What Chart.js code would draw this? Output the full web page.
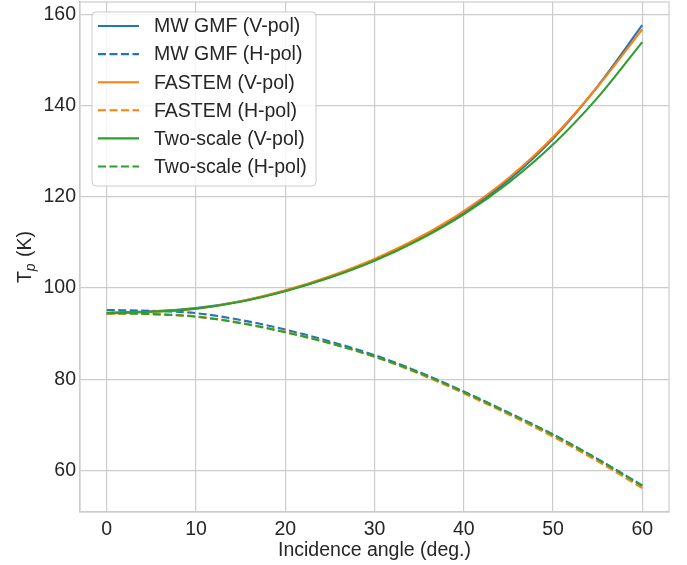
<!DOCTYPE html>
<html>
<head>
<meta charset="utf-8">
<script src="https://cdn.jsdelivr.net/npm/chart.js@4.4.0/dist/chart.umd.min.js"></script>
<style>
  html, body { margin: 0; padding: 0; background: #fff; }
  #wrap { width: 687px; height: 565px; }
</style>
</head>
<body>
<div id="wrap"><canvas id="chart" width="687" height="565"></canvas></div>
<script>
// incidence angle (deg.)
const angles = [0, 5, 10, 15, 20, 25, 30, 35, 40, 45, 50, 55, 60];

// brightness temperatures (K)
const mwgmfV = [94.6, 94.9, 95.6, 97.1, 99.4, 102.4, 106.1, 110.8, 116.5, 123.7, 132.8, 144.3, 157.7];
const mwgmfH = [95.2, 95.0, 94.5, 93.0, 90.9, 88.3, 85.3, 81.6, 77.3, 72.7, 67.9, 62.5, 56.7];
const fastemV = [94.4, 94.8, 95.5, 97.1, 99.5, 102.6, 106.4, 111.1, 116.9, 124.1, 133.1, 144.2, 156.8];
const fastemH = [94.4, 94.3, 93.8, 92.4, 90.4, 87.9, 84.9, 81.2, 76.9, 72.3, 67.4, 62.0, 56.1];
const twoScaleV = [94.5, 94.8, 95.5, 97.0, 99.3, 102.3, 106.0, 110.6, 116.2, 123.1, 131.5, 141.8, 154.0];
const twoScaleH = [94.5, 94.3, 93.7, 92.3, 90.3, 87.9, 85.0, 81.4, 77.2, 72.6, 67.8, 62.4, 56.6];

const xTicks = [0, 10, 20, 30, 40, 50, 60];
const yTicks = [60, 80, 100, 120, 140, 160];

const FONT = "'Liberation Sans', Arial, sans-serif";
const TEXT = "#262626";
const GRID = "#cccccc";
const DASH = [8, 3.5];

function series(label, values, color, dashed, order) {
  return {
    label: label,
    data: angles.map((a, i) => ({ x: a, y: values[i] })),
    borderColor: color,
    backgroundColor: color,
    borderWidth: 2.1,
    borderDash: dashed ? DASH : [],
    pointRadius: 0,
    cubicInterpolationMode: "monotone",
    fill: false,
    order: order,
  };
}

const datasets = [
  series("MW GMF (V-pol)", mwgmfV, "#1f77b4", false, 6),
  series("MW GMF (H-pol)", mwgmfH, "#1f77b4", true, 5),
  series("FASTEM (V-pol)", fastemV, "#ff7f0e", false, 4),
  series("FASTEM (H-pol)", fastemH, "#ff7f0e", true, 3),
  series("Two-scale (V-pol)", twoScaleV, "#2ca02c", false, 2),
  series("Two-scale (H-pol)", twoScaleH, "#2ca02c", true, 1),
];

// frame on all four sides (matplotlib spines)
const frame = {
  id: "frame",
  afterDatasetsDraw(chart) {
    const { ctx, chartArea: a } = chart;
    ctx.save();
    ctx.strokeStyle = GRID;
    ctx.lineWidth = 1.2;
    ctx.strokeRect(a.left, a.top, a.right - a.left, a.bottom - a.top);
    ctx.restore();
  },
};

// legend drawn inside the axes, upper left
const insideLegend = {
  id: "insideLegend",
  afterDraw(chart) {
    const ctx = chart.ctx;
    ctx.save();
    ctx.beginPath();
    ctx.roundRect(92, 12, 224, 174, 4);
    ctx.fillStyle = "rgba(255,255,255,0.8)";
    ctx.fill();
    ctx.strokeStyle = GRID;
    ctx.lineWidth = 1;
    ctx.stroke();
    ctx.font = "19.5px " + FONT;
    ctx.textBaseline = "middle";
    ctx.textAlign = "left";
    chart.data.datasets.forEach((ds, i) => {
      const y = 26 + i * 28.1;
      ctx.beginPath();
      ctx.setLineDash(ds.borderDash);
      ctx.strokeStyle = ds.borderColor;
      ctx.lineWidth = 2.1;
      ctx.moveTo(98, y);
      ctx.lineTo(139, y);
      ctx.stroke();
      ctx.setLineDash([]);
      ctx.fillStyle = TEXT;
      ctx.fillText(ds.label, 154, y + 1);
    });
    ctx.restore();
  },
};

// y axis title with subscript p
const yTitle = {
  id: "yTitle",
  afterDraw(chart) {
    const ctx = chart.ctx;
    const a = chart.chartArea;
    ctx.save();
    ctx.fillStyle = TEXT;
    ctx.textBaseline = "alphabetic";
    ctx.textAlign = "left";
    const big = "19.5px " + FONT;
    const small = "italic 14px " + FONT;
    ctx.font = big;
    const wT = ctx.measureText("T").width;
    const wK = ctx.measureText(" (K)").width;
    ctx.font = small;
    const wp = ctx.measureText("p").width;
    const total = wT + wp + 1 + wK;
    ctx.translate(31, (a.top + a.bottom) / 2);
    ctx.rotate(-Math.PI / 2);
    let x = -total / 2;
    ctx.font = big;
    ctx.fillText("T", x, 0);
    x += wT;
    ctx.font = small;
    ctx.fillText("p", x, 4);
    x += wp + 1;
    ctx.font = big;
    ctx.fillText(" (K)", x, 0);
    ctx.restore();
  },
};

new Chart(document.getElementById("chart").getContext("2d"), {
  type: "line",
  data: { datasets: datasets },
  options: {
    responsive: false,
    animation: false,
    events: [],
    layout: { padding: { top: 2, right: 18, left: 0, bottom: 0 } },
    plugins: {
      legend: { display: false },
      tooltip: { enabled: false },
    },
    scales: {
      x: {
        type: "linear",
        min: -3,
        max: 63,
        afterBuildTicks: (scale) => {
          scale.ticks = xTicks.map((v) => ({ value: v }));
        },
        afterFit: (scale) => {
          scale.height = 53;
          scale.paddingLeft = 0;
          scale.paddingRight = 0;
        },
        grid: { color: GRID, lineWidth: 1.2, drawTicks: false },
        border: { color: GRID, width: 1.2 },
        ticks: {
          color: TEXT,
          padding: 6,
          maxRotation: 0,
          font: { family: FONT, size: 19.5 },
        },
        title: {
          display: true,
          text: "Incidence angle (deg.)",
          color: TEXT,
          padding: { top: 0, bottom: 3 },
          font: { family: FONT, size: 19.5 },
        },
      },
      y: {
        type: "linear",
        min: 50.85,
        max: 162.8,
        afterBuildTicks: (scale) => {
          scale.ticks = yTicks.map((v) => ({ value: v }));
        },
        afterFit: (scale) => {
          scale.width = 80;
          scale.paddingTop = 0;
          scale.paddingBottom = 0;
        },
        grid: { color: GRID, lineWidth: 1.2, drawTicks: false },
        border: { color: GRID, width: 1.2 },
        ticks: {
          color: TEXT,
          padding: 4,
          font: { family: FONT, size: 19.5 },
        },
        title: { display: false },
      },
    },
  },
  plugins: [frame, insideLegend, yTitle],
});
</script>
</body>
</html>
